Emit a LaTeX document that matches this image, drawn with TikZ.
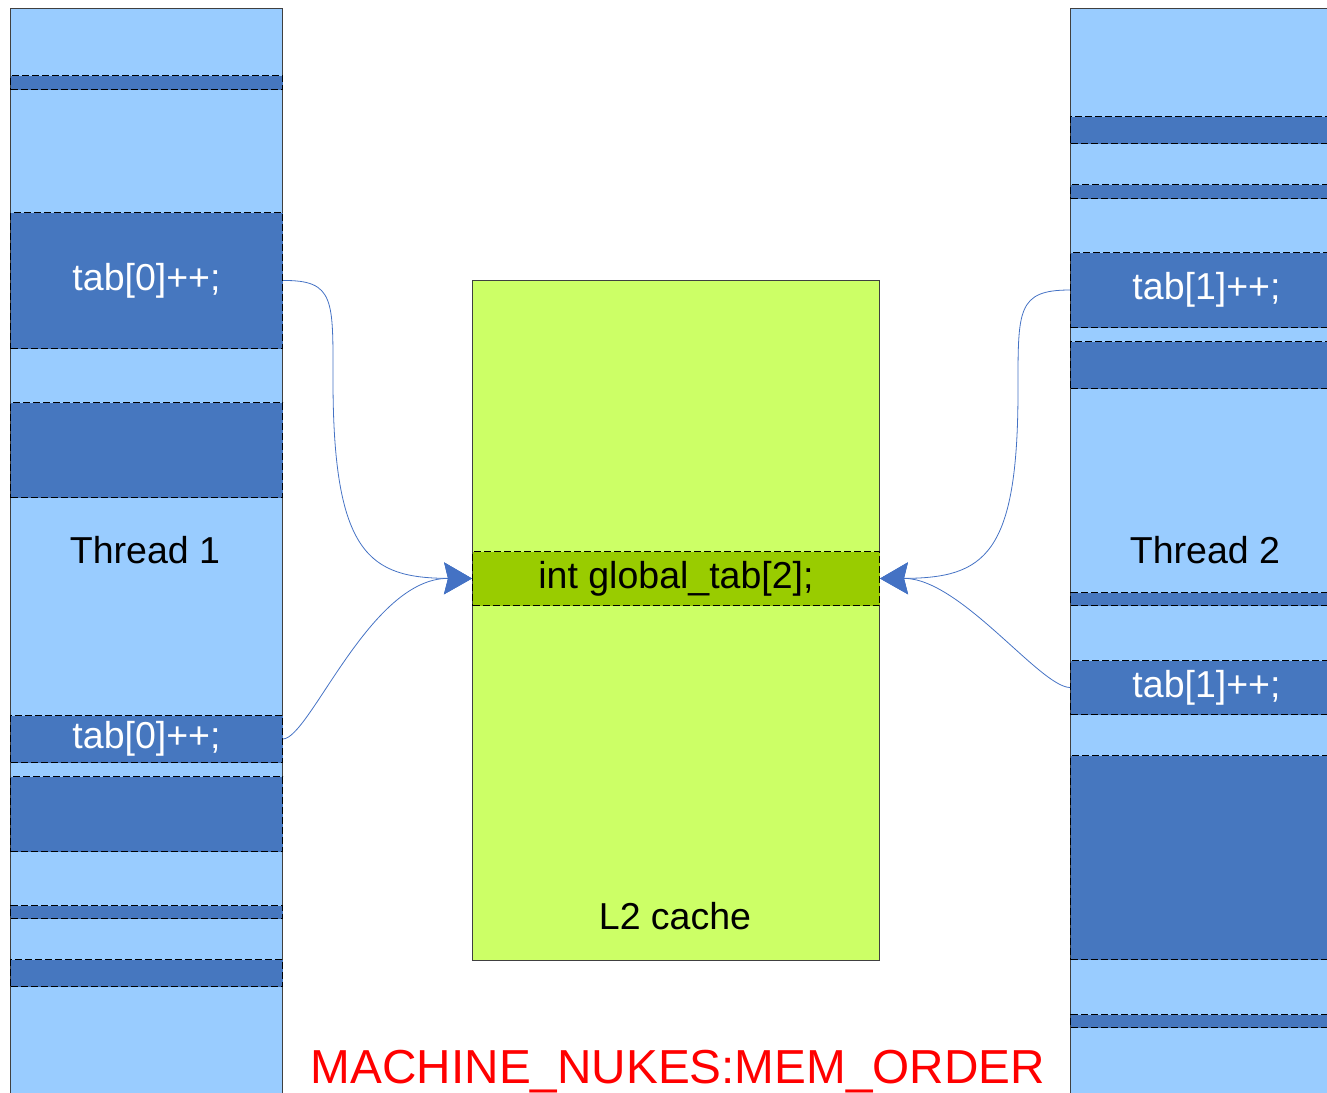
\documentclass[tikz,border=0pt]{standalone}
\usepackage{fontspec}
\setmainfont{Liberation Sans}
\usetikzlibrary{arrows.meta}

\definecolor{lightblue}{HTML}{99CCFF}
\definecolor{darkblue}{HTML}{4677BF}
\definecolor{lightgreen}{HTML}{CCFF66}
\definecolor{darkgreen}{HTML}{99CC00}
\definecolor{arrowblue}{HTML}{4472C4}
\definecolor{rim}{HTML}{404040}

\tikzset{
	column/.style={draw=rim, line width=1.2pt, fill=lightblue, minimum width=272pt, minimum height=1100pt, anchor=north west, inner sep=0pt},
	slot/.style={draw=black, dash pattern=on 7pt off 3pt, line width=1pt, fill=darkblue, minimum width=272pt, anchor=north west, inner sep=0pt, text=white, font=\fontsize{37.5}{40}\selectfont},
	tname/.style={font=\fontsize{37.5}{40}\selectfont},
	flow/.style={draw=arrowblue, line width=0.8pt, -{Stealth[length=28pt,width=32pt,inset=4pt,fill=arrowblue]}}
}

\begin{document}
\begin{tikzpicture}[x=1pt,y=-1pt]
	\useasboundingbox (0,0) rectangle (1327,1092);
	\clip (0,0) rectangle (1327,1092);

	\node[column] (col1) at (10,8) {};
	\node[column] (col2) at (1070,8) {};

	\node[slot, minimum height=14pt] (s1a) at (10,75) {};
	\node[slot, minimum height=136pt] (t0a) at (10,212) {tab[0]++;};
	\node[slot, minimum height=95pt] (s1b) at (10,402) {};
	\node[slot, minimum height=47pt] (t0b) at (10,715) {tab[0]++;};
	\node[slot, minimum height=75pt] (s1c) at (10,776) {};
	\node[slot, minimum height=13pt] (s1d) at (10,905) {};
	\node[slot, minimum height=27pt] (s1e) at (10,959) {};

	\node[slot, minimum height=27pt] (s2a) at (1070,116) {};
	\node[slot, minimum height=14pt] (s2b) at (1070,184) {};
	\node[slot, minimum height=75pt] (t1a) at (1070,252) {tab[1]++;};
	\node[slot, minimum height=47pt] (s2c) at (1070,341) {};
	\node[slot, minimum height=13pt] (s2d) at (1070,592) {};
	\node[slot, minimum height=54pt] (t1b) at (1070,660) {tab[1]++;};
	\node[slot, minimum height=204pt] (s2e) at (1070,755) {};
	\node[slot, minimum height=13pt] (s2f) at (1070,1014) {};

	\node[tname] (thread1) at (145,550) {Thread 1};
	\node[tname] (thread2) at (1205,550) {Thread 2};

	\node[draw=rim, line width=1.2pt, fill=lightgreen, minimum width=407pt, minimum height=680pt, anchor=north west, inner sep=0pt] (cache) at (472,280) {};
	\node[draw=black, dash pattern=on 7pt off 3pt, line width=1pt, fill=darkgreen, minimum width=407pt, minimum height=54pt, anchor=north west, inner sep=0pt, tname] (gtab) at (472,551) {int global\_tab[2];};
	\node[tname] (l2) at (675,916) {L2 cache};

	\node[anchor=base, inner sep=0pt, text=red, font=\fontsize{47.7}{50}\selectfont] (nukes) at (678,1083) {MACHINE\_NUKES:MEM\_ORDER};

	\draw[flow] (t0a.east) .. controls (335,280) and (333,300) .. (333,380)
		.. controls (333,555) and (370,578) .. (gtab.west);
	\draw[flow] (t0b.east) .. controls (310,738) and (370,578) .. (gtab.west);
	\draw[flow] (t1a.west) .. controls (1017,290) and (1018,310) .. (1018,390)
		.. controls (1018,555) and (985,578) .. (gtab.east);
	\draw[flow] (t1b.west) .. controls (1040,687) and (960,578) .. (gtab.east);
\end{tikzpicture}
\end{document}
